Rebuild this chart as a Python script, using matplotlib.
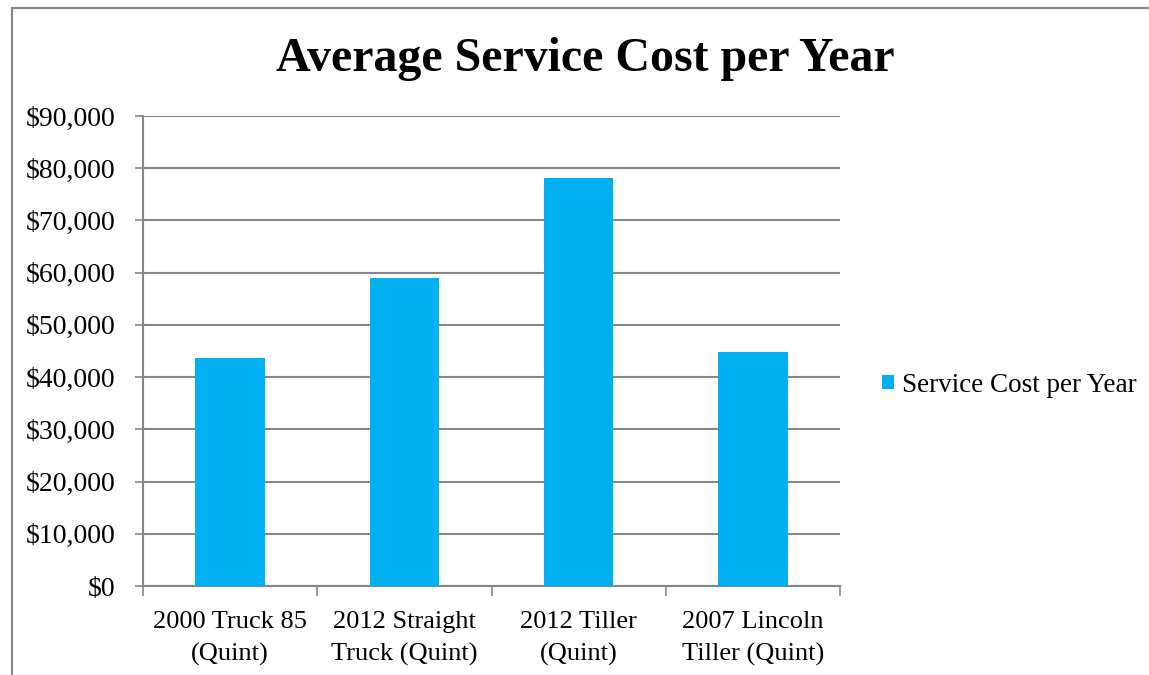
import matplotlib
matplotlib.use('Agg')
import matplotlib.pyplot as plt
import matplotlib.patches as patches
import matplotlib.ticker as ticker

categories = ['2000 Truck 85\n(Quint)', '2012 Straight\nTruck (Quint)', '2012 Tiller\n(Quint)', '2007 Lincoln\nTiller (Quint)']
costs = [43700, 59000, 78200, 44800]
series_name = 'Service Cost per Year'

bar_color = '#00B0F0'
grid_color = '#868686'

plt.rcParams['font.family'] = ['Liberation Serif', 'DejaVu Serif']

fig = plt.figure(figsize=(11.49, 6.75), dpi=100)
ax = fig.add_axes([143 / 1149, 1 - 586 / 675, 697 / 1149, 470 / 675])

x = list(range(len(categories)))
ax.bar(x, costs, width=0.4, color=bar_color, label=series_name, zorder=3)

ax.set_xlim(-0.5, len(categories) - 0.5)
ax.set_ylim(0, 90000)
ax.yaxis.set_major_locator(ticker.MultipleLocator(10000))
ax.yaxis.set_major_formatter(ticker.FuncFormatter(lambda v, p: f'${v:,.0f}'))
ax.grid(axis='y', color=grid_color, linewidth=1.5, zorder=0)

ax.set_xticks(x)
ax.set_xticklabels(categories, fontsize=19, linespacing=1.55)
ax.set_xticks([i - 0.5 for i in range(len(categories) + 1)], minor=True)
ax.tick_params(axis='x', which='major', length=0, pad=18)
ax.tick_params(axis='x', which='minor', length=7, color=grid_color, width=1.2)
ax.tick_params(axis='y', labelsize=20, length=6, color=grid_color, width=1.2, pad=14)

for side in ['top', 'right']:
    ax.spines[side].set_visible(False)
for side in ['left', 'bottom']:
    ax.spines[side].set_color(grid_color)
    ax.spines[side].set_linewidth(1.5)

fig.text(585 / 1149, 1 - 59 / 675, 'Average Service Cost per Year', ha='center', va='center',
         fontsize=34.5, fontweight='bold')

ax.legend(loc='center left', bbox_to_anchor=(858 / 1149, 1 - 385 / 675), bbox_transform=fig.transFigure,
          frameon=False, fontsize=19.5, handlelength=0.42, handleheight=0.42, handletextpad=0.3)

fig.add_artist(patches.Rectangle((12 / 1149, -0.5), 2, 0.5 + 1 - 8 / 675, transform=fig.transFigure,
                                 fill=False, edgecolor=grid_color, linewidth=1.5))

fig.savefig('out.png', dpi=100)
